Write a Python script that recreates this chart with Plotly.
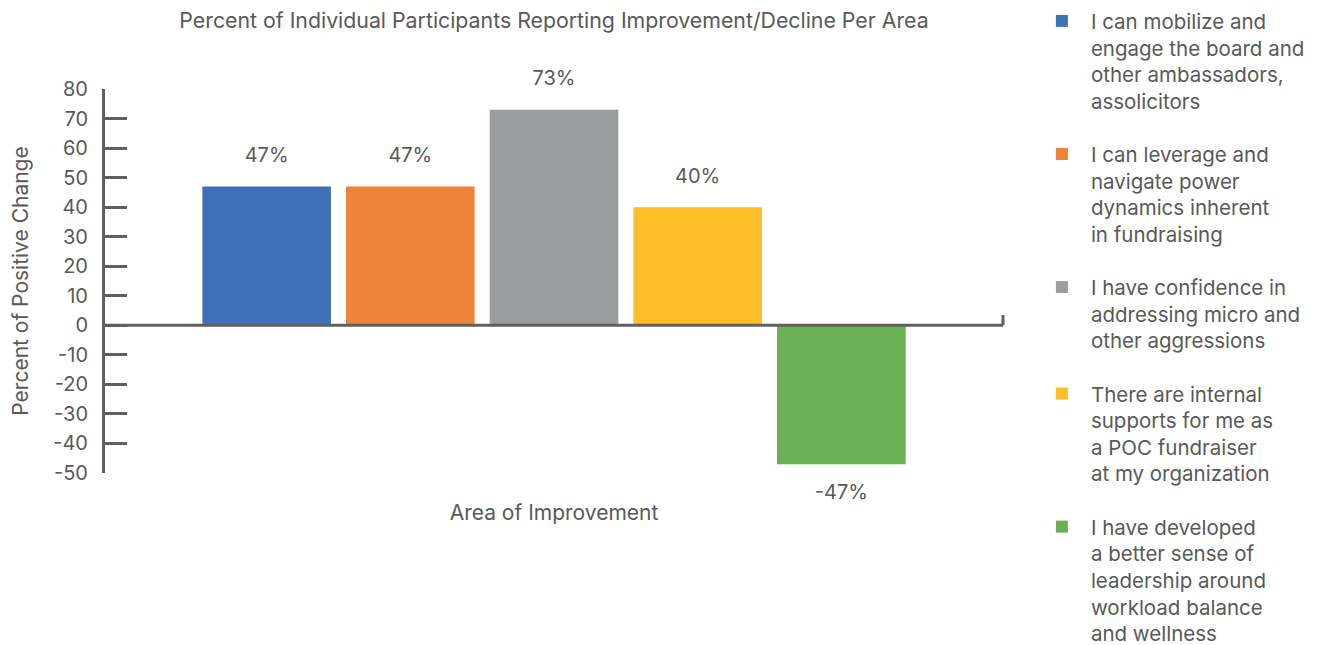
import plotly.graph_objects as go

category = ["Area of Improvement"]
series_names = [
    "I can mobilize and<br>engage the board and<br>other ambassadors,<br>assolicitors",
    "I can leverage and<br>navigate power<br>dynamics inherent<br>in fundraising",
    "I have confidence in<br>addressing micro and<br>other aggressions",
    "There are internal<br>supports for me as<br>a POC fundraiser<br>at my organization",
    "I have developed<br>a better sense of<br>leadership around<br>workload balance<br>and wellness",
]
values = [47, 47, 73, 40, -47]
colors = ["#3F71B9", "#F0833A", "#9A9D9E", "#FEBE28", "#6AB155"]
y_ticks = [80, 70, 60, 50, 40, 30, 20, 10, 0, -10, -20, -30, -40, -50]

TXT = "#595959"
AX = "#5f5f5f"
FONT = "Inter"
FS = 20

fig = go.Figure()
for i, (name, v, c) in enumerate(zip(series_names, values, colors)):
    lab = f"<span style='font-size:{FS}px'>{v}%</span>"
    lab = f"{lab}<br> " if v >= 0 else f" <br>{lab}"
    fig.add_trace(go.Bar(
        x=category, y=[v], name=name, legendgroup=f"g{i}",
        marker=dict(color=c, line=dict(width=0)),
        text=[lab], textposition="outside", cliponaxis=False,
        textfont=dict(family=FONT, size=14, color=TXT),
    ))

fig.add_shape(type="line", xref="paper", yref="y", x0=0, x1=1, y0=0, y1=0,
              line=dict(color=AX, width=3), layer="above")
fig.add_shape(type="line", xref="paper", yref="y", x0=1, x1=1, y0=0, y1=3.5,
              line=dict(color=AX, width=3), layer="above")

fig.update_layout(
    width=1317, height=637,
    margin=dict(l=97, r=322, t=81, b=172, autoexpand=False),
    paper_bgcolor="white", plot_bgcolor="white",
    barmode="group", bargap=0.2, bargroupgap=0.105,
    title=dict(text="Percent of Individual Participants Reporting Improvement/Decline Per Area",
               x=0.5, xref="paper", xanchor="center", y=0.9796, yanchor="middle",
               font=dict(family=FONT, size=21.3, color=TXT)),
    font=dict(family=FONT, color=TXT),
    showlegend=True,
    legend=dict(x=1.0333, xanchor="left", y=1.229, yanchor="top", valign="top",
                font=dict(family=FONT, size=20.5, color=TXT), tracegroupgap=23.5,
                itemwidth=48, maxheight=1000, bgcolor="rgba(0,0,0,0)"),
    xaxis=dict(showticklabels=False, showline=False, showgrid=False, zeroline=False,
               title=dict(text="Area of Improvement", font=dict(family=FONT, size=21, color=TXT),
                          standoff=32)),
    yaxis=dict(range=[-50, 80], tickvals=y_ticks, ticktext=[str(t) for t in y_ticks],
               showline=True, linecolor=AX, linewidth=3,
               ticks="inside", ticklen=22, tickwidth=3, tickcolor=AX,
               ticklabelstandoff=10,
               showgrid=False, zeroline=False,
               tickfont=dict(family=FONT, size=FS, color=TXT),
               title=dict(text="Percent of Positive Change", font=dict(family=FONT, size=21, color=TXT),
                          standoff=32)),
)

fig.write_html("out.html")
